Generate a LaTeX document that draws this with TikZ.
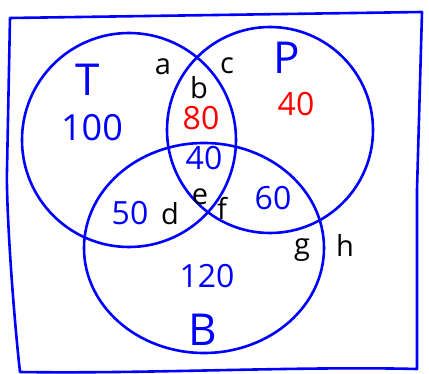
\documentclass[tikz,border=0pt]{standalone}
\usepackage{fontspec}
\setmainfont{Open Sans}
\begin{document}
\begin{tikzpicture}[x=1pt,y=-1pt]

    \tikzset{
      setline/.style={
        color={blue},
        line width=2.6pt,
      },
      count/.style={
        text={blue},
        font=\fontsize{32}{32}\selectfont,
        anchor=center,
        inner sep=0pt,
      },
      redcount/.style={
        count,
        text={red},
      },
      region/.style={
        text={black},
        font=\fontsize{29}{29}\selectfont,
        anchor=center,
        inner sep=0pt,
      },
      setname/.style={
        text={blue},
        font=\fontsize{44}{44}\selectfont,
        anchor=center,
        inner sep=0pt,
      },
    }

	\useasboundingbox (0,0) rectangle (429,374);

	% universal set
	\draw[setline,line join=round] (10,18)--(422,12)--(417,190)--(417,369)
	  .. controls (300,366) and (150,374) .. (20,372)
	  .. controls (12,300) and (6,200) .. (7,170)--cycle;

	% the three sets
	\draw[setline] (129,140) circle (107);
	\draw[setline] (270,130) circle (103);
	\draw[setline] (204,248) ellipse (120 and 105);

	% set names
	\node[setname] (T) at (88,80) {T};
	\node[setname] (P) at (287,58) {P};
	\node[setname] (B) at (203,330) {B};

	% counts
	\node[count,font=\fontsize{36}{36}\selectfont] (nT) at (92,128) {100};
	\node[redcount] (nP) at (296,104) {40};
	\node[redcount] (nTP) at (201,118) {80};
	\node[count] (nTPB) at (204,158) {40};
	\node[count] (nTB) at (130,213) {50};
	\node[count] (nPB) at (273,198) {60};
	\node[count] (nB) at (207,276) {120};

	% region letters
	\node[region] (a) at (163,67) {a};
	\node[region] (b) at (199,88) {b};
	\node[region] (c) at (227,66) {c};
	\node[region] (d) at (170,214) {d};
	\node[region] (e) at (200,197) {e};
	\node[region] (f) at (222,208) {f};
	\node[region] (g) at (302,250) {g};
	\node[region] (h) at (345,245) {h};

\end{tikzpicture}
\end{document}
